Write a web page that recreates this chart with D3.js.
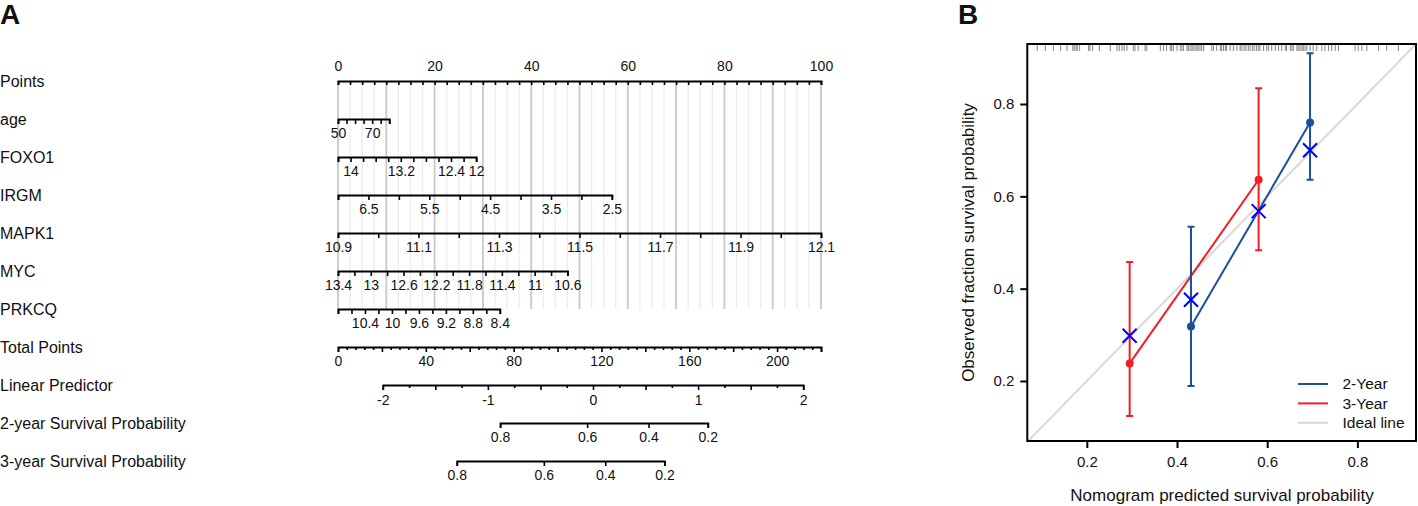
<!DOCTYPE html>
<html>
<head>
<meta charset="utf-8">
<script src="https://cdn.jsdelivr.net/npm/d3@7"></script>
<style>
  body { margin: 0; background: #fff; }
  svg text { font-family: "Liberation Sans", Arial, sans-serif; fill: #111; }
</style>
</head>
<body>
<div id="fig"></div>
<script>
// ---- panel A: nomogram ----
var rowNames = ['Points', 'age', 'FOXO1', 'IRGM', 'MAPK1', 'MYC', 'PRKCQ',
    'Total Points', 'Linear Predictor', '2-year Survival Probability', '3-year Survival Probability'];

var pointsLabels = [0, 20, 40, 60, 80, 100];

var ageRange = [50, 80], agePoints = [0, 10.6];
var ageTicks = [50, 55, 60, 65, 70, 75, 80];
var ageLabels = [50, 70];

var foxo1Range = [14.2, 12], foxo1Points = [0, 28.6];
var foxo1Ticks = [14.2, 14, 13.8, 13.6, 13.4, 13.2, 13, 12.8, 12.6, 12.4, 12.2, 12];
var foxo1Labels = [14, 13.2, 12.4, 12];

var irgmRange = [7, 2.5], irgmPoints = [0, 56.7];
var irgmTicks = [7, 6.5, 6, 5.5, 5, 4.5, 4, 3.5, 3, 2.5];
var irgmLabels = [6.5, 5.5, 4.5, 3.5, 2.5];

var mapk1Range = [10.9, 12.1], mapk1Points = [0, 100];
var mapk1Ticks = [10.9, 11, 11.1, 11.2, 11.3, 11.4, 11.5, 11.6, 11.7, 11.8, 11.9, 12, 12.1];
var mapk1Labels = [10.9, 11.1, 11.3, 11.5, 11.7, 11.9, 12.1];

var mycRange = [13.4, 10.6], mycPoints = [0, 47.5];
var mycTicks = [13.4, 13.2, 13, 12.8, 12.6, 12.4, 12.2, 12, 11.8, 11.6, 11.4, 11.2, 11, 10.8, 10.6];
var mycLabels = [13.4, 13, 12.6, 12.2, 11.8, 11.4, 11, 10.6];

var prkcqRange = [10.8, 8.4], prkcqPoints = [0, 33.5];
var prkcqTicks = [10.8, 10.6, 10.4, 10.2, 10, 9.8, 9.6, 9.4, 9.2, 9, 8.8, 8.6, 8.4];
var prkcqLabels = [10.4, 10, 9.6, 9.2, 8.8, 8.4];

var totalMax = 220;
var totalLabels = [0, 40, 80, 120, 160, 200];

var lpRange = [-2, 2], lpTotal = [20.4, 211.9];
var lpLabels = [-2, -1, 0, 1, 2];

var survLabels = [0.8, 0.6, 0.4, 0.2];
var loglogBase2 = -0.616, loglogBase3 = -0.204;   // log(-log S0(t))

// ---- panel B: calibration ----
var pred2 = [0.431, 0.695], obs2 = [0.318, 0.760], lo2 = [0.189, 0.636], hi2 = [0.534, 0.910];
var pred3 = [0.295, 0.581], obs3 = [0.238, 0.636], lo3 = [0.124, 0.483], hi3 = [0.458, 0.834];
var corrX = [0.295, 0.431, 0.581, 0.695], corrY = [0.298, 0.376, 0.568, 0.700];
var rugPred = [0.090, 0.108, 0.126, 0.142, 0.156, 0.169, 0.172, 0.176, 0.179, 0.184, 0.204, 0.207, 0.213,
    0.228, 0.252, 0.267, 0.272, 0.278, 0.283, 0.289, 0.303, 0.307, 0.314, 0.329, 0.333, 0.363, 0.370,
    0.377, 0.385, 0.388, 0.392, 0.400, 0.407, 0.411, 0.414, 0.422, 0.425, 0.429, 0.433, 0.436, 0.440,
    0.444, 0.447, 0.451, 0.455, 0.459, 0.477, 0.481, 0.488, 0.496, 0.499, 0.503, 0.507, 0.510, 0.518,
    0.525, 0.533, 0.540, 0.544, 0.549, 0.553, 0.558, 0.562, 0.567, 0.571, 0.576, 0.580, 0.584, 0.592,
    0.599, 0.603, 0.610, 0.618, 0.625, 0.632, 0.640, 0.643, 0.651, 0.655, 0.658, 0.666, 0.669, 0.673,
    0.677, 0.680, 0.684, 0.688, 0.695, 0.702, 0.710, 0.721, 0.728, 0.736, 0.743, 0.751, 0.758, 0.795,
    0.802, 0.810, 0.821, 0.847, 0.865, 0.891];
var legendNames = ['2-Year', '3-Year', 'Ideal line'];
var col2 = '#1b4f9c', col3 = '#f01e23', colX = '#0000ff', colIdeal = '#d9d9d9';

var W = 1418, H = 506;
var svg = d3.select('#fig').append('svg').attr('width', W).attr('height', H);
svg.append('rect').attr('width', W).attr('height', H).attr('fill', '#fff');

svg.append('text').text('A').attr('x', 0).attr('y', 24)
    .style('font-size', '28px').style('font-weight', 'bold');

var xPts = d3.scaleLinear().domain([0, 100]).range([338, 821]);
var rowY = d3.scalePoint().domain(rowNames).range([81, 461]);

// grid lines behind the axes
var grid = svg.append('g');
grid.selectAll('line').data(d3.range(0, 100.01, 2.5)).enter().append('line')
    .attr('x1', function(d) { return xPts(d); })
    .attr('x2', function(d) { return xPts(d); })
    .attr('y1', rowY('Points'))
    .attr('y2', rowY('PRKCQ'))
    .attr('stroke', function(d) { return d % 10 === 0 ? '#c9c9c9' : '#ececec'; })
    .attr('stroke-width', function(d) { return d % 10 === 0 ? 1.8 : 1.3; });

// row labels
svg.append('g').selectAll('text').data(rowNames).enter().append('text')
    .text(function(d) { return d; })
    .attr('x', 0)
    .attr('y', function(d) { return rowY(d); })
    .attr('dy', '0.35em')
    .style('font-size', '16px');

function styleAxis(g) {
    g.selectAll('path').attr('stroke', '#000').attr('stroke-width', 1.8);
    g.selectAll('line').attr('stroke', '#000').attr('stroke-width', 1.6);
    g.selectAll('text').style('font-size', '14px').style('font-family', '"Liberation Sans", Arial, sans-serif');
}

// Points axis: ticks down, labels above
var pointsAxis = d3.axisTop(xPts)
    .tickValues(d3.range(0, 100.01, 2.5))
    .tickSize(-4).tickSizeOuter(-4).tickPadding(10)
    .tickFormat(function(d) { return pointsLabels.indexOf(d) >= 0 ? d : ''; });
svg.append('g').attr('transform', 'translate(0,' + rowY('Points') + ')')
    .call(pointsAxis).call(styleAxis);

// predictor axes
var variables = [
    { row: 'age', range: ageRange, points: agePoints, ticks: ageTicks, labels: ageLabels },
    { row: 'FOXO1', range: foxo1Range, points: foxo1Points, ticks: foxo1Ticks, labels: foxo1Labels },
    { row: 'IRGM', range: irgmRange, points: irgmPoints, ticks: irgmTicks, labels: irgmLabels },
    { row: 'MAPK1', range: mapk1Range, points: mapk1Points, ticks: mapk1Ticks, labels: mapk1Labels },
    { row: 'MYC', range: mycRange, points: mycPoints, ticks: mycTicks, labels: mycLabels },
    { row: 'PRKCQ', range: prkcqRange, points: prkcqPoints, ticks: prkcqTicks, labels: prkcqLabels }
];
variables.forEach(function(v) {
    var sc = d3.scaleLinear().domain(v.range).range(v.points.map(xPts));
    var ax = d3.axisBottom(sc).tickValues(v.ticks).tickSize(5).tickSizeOuter(5).tickPadding(4)
        .tickFormat(function(d) { return v.labels.indexOf(d) >= 0 ? d : ''; });
    svg.append('g').attr('transform', 'translate(0,' + rowY(v.row) + ')').call(ax).call(styleAxis);
});

// Total points
var xTotal = d3.scaleLinear().domain([0, totalMax]).range(xPts.range());
var totalAxis = d3.axisBottom(xTotal).tickValues(d3.range(0, totalMax + 0.1, 4))
    .tickSize(5).tickSizeOuter(5).tickPadding(4)
    .tickFormat(function(d) { return totalLabels.indexOf(d) >= 0 ? d : ''; });
var tg = svg.append('g').attr('transform', 'translate(0,' + rowY('Total Points') + ')')
    .call(totalAxis).call(styleAxis);
tg.selectAll('.tick line').attr('y2', function(d) { return d % 20 === 0 ? 5 : 3; });

// Linear predictor
var xLP = d3.scaleLinear().domain(lpRange).range(lpTotal.map(xTotal));
var lpAxis = d3.axisBottom(xLP).tickValues(d3.range(-2, 2.01, 0.25))
    .tickSize(5).tickSizeOuter(5).tickPadding(5)
    .tickFormat(function(d) { return lpLabels.indexOf(d) >= 0 ? d : ''; });
var lg = svg.append('g').attr('transform', 'translate(0,' + rowY('Linear Predictor') + ')')
    .call(lpAxis).call(styleAxis);
lg.selectAll('.tick line').attr('y2', function(d) { return d % 0.5 === 0 ? 5 : 3; });

// survival probability axes (Cox: S = S0^exp(lp))
function survAxis(row, base) {
    var lpOf = function(s) { return Math.log(-Math.log(s)) - base; };
    var vals = survLabels.map(lpOf);
    var sc = d3.scaleLinear().domain([vals[0], vals[vals.length - 1]])
        .range([xLP(vals[0]), xLP(vals[vals.length - 1])]);
    var ax = d3.axisBottom(sc).tickValues(vals).tickSize(5).tickSizeOuter(5).tickPadding(4)
        .tickFormat(function(d, i) { return survLabels[i]; });
    svg.append('g').attr('transform', 'translate(0,' + rowY(row) + ')').call(ax).call(styleAxis);
}
survAxis('2-year Survival Probability', loglogBase2);
survAxis('3-year Survival Probability', loglogBase3);

// ---- panel B ----
svg.append('text').text('B').attr('x', 958).attr('y', 24)
    .style('font-size', '28px').style('font-weight', 'bold');

var bx = d3.scaleLinear().domain([0.068, 0.93]).range([1027.3, 1416]);
var by = d3.scaleLinear().domain([0.07, 0.93]).range([441, 44]);

var pb = svg.append('g');
pb.append('defs').append('clipPath').attr('id', 'clipB').append('rect')
    .attr('x', bx.range()[0]).attr('y', by.range()[1])
    .attr('width', bx.range()[1] - bx.range()[0]).attr('height', by.range()[0] - by.range()[1]);

var plot = pb.append('g').attr('clip-path', 'url(#clipB)');

// ideal line
plot.append('line')
    .attr('x1', bx(0.05)).attr('y1', by(0.05))
    .attr('x2', bx(0.95)).attr('y2', by(0.95))
    .attr('stroke', colIdeal).attr('stroke-width', 2);

// rug of predicted values
plot.append('g').selectAll('line').data(rugPred).enter().append('line')
    .attr('x1', function(d) { return bx(d); }).attr('x2', function(d) { return bx(d); })
    .attr('y1', by.range()[1]).attr('y2', by.range()[1] + 7)
    .attr('stroke', '#444').attr('stroke-opacity', 0.65).attr('stroke-width', 1);

function series(pred, obs, lo, hi, col) {
    var g = plot.append('g');
    var pts = pred.map(function(p, i) { return [p, obs[i]]; });
    g.append('path').datum(pts)
        .attr('d', d3.line().x(function(d) { return bx(d[0]); }).y(function(d) { return by(d[1]); }))
        .attr('fill', 'none').attr('stroke', col).attr('stroke-width', 2);
    pred.forEach(function(p, i) {
        g.append('line').attr('x1', bx(p)).attr('x2', bx(p)).attr('y1', by(lo[i])).attr('y2', by(hi[i]))
            .attr('stroke', col).attr('stroke-width', 2);
        [lo[i], hi[i]].forEach(function(v) {
            g.append('line').attr('x1', bx(p) - 3.5).attr('x2', bx(p) + 3.5).attr('y1', by(v)).attr('y2', by(v))
                .attr('stroke', col).attr('stroke-width', 2);
        });
    });
    g.selectAll('circle').data(pts).enter().append('circle')
        .attr('cx', function(d) { return bx(d[0]); }).attr('cy', function(d) { return by(d[1]); })
        .attr('r', 4).attr('fill', col);
}
series(pred3, obs3, lo3, hi3, col3);
series(pred2, obs2, lo2, hi2, col2);

// bias-corrected estimates
var xs = plot.append('g');
corrX.forEach(function(p, i) {
    var cx = bx(p), cy = by(corrY[i]), s = 7;
    xs.append('path')
        .attr('d', 'M' + (cx - s) + ',' + (cy - s) + 'L' + (cx + s) + ',' + (cy + s) +
                   'M' + (cx - s) + ',' + (cy + s) + 'L' + (cx + s) + ',' + (cy - s))
        .attr('stroke', colX).attr('stroke-width', 2).attr('fill', 'none');
});

// frame
pb.append('rect')
    .attr('x', bx.range()[0]).attr('y', by.range()[1])
    .attr('width', bx.range()[1] - bx.range()[0]).attr('height', by.range()[0] - by.range()[1])
    .attr('fill', 'none').attr('stroke', '#000').attr('stroke-width', 2);

var xAxisB = d3.axisBottom(bx).tickValues([0.2, 0.4, 0.6, 0.8]).tickSize(7).tickSizeOuter(0).tickPadding(8)
    .tickFormat(d3.format('.1f'));
var yAxisB = d3.axisLeft(by).tickValues([0.2, 0.4, 0.6, 0.8]).tickSize(7).tickSizeOuter(0).tickPadding(6)
    .tickFormat(d3.format('.1f'));
function styleB(g) {
    g.select('.domain').remove();
    g.selectAll('line').attr('stroke', '#000').attr('stroke-width', 2);
    g.selectAll('text').style('font-size', '15px').style('font-family', '"Liberation Sans", Arial, sans-serif');
}
pb.append('g').attr('transform', 'translate(0,' + by.range()[0] + ')').call(xAxisB).call(styleB);
pb.append('g').attr('transform', 'translate(' + bx.range()[0] + ',0)').call(yAxisB).call(styleB);

pb.append('text').text('Nomogram predicted survival probability')
    .attr('x', 1222).attr('y', 501).attr('text-anchor', 'middle').style('font-size', '17px');
pb.append('text').text('Observed fraction survival probability')
    .attr('transform', 'translate(974,242.5) rotate(-90)').attr('text-anchor', 'middle')
    .style('font-size', '17px');

// legend
var legend = pb.append('g');
var legendCols = [col2, col3, colIdeal];
legendNames.forEach(function(name, i) {
    var y = 384 + i * 19.4;
    legend.append('line').attr('x1', 1298).attr('x2', 1328).attr('y1', y).attr('y2', y)
        .attr('stroke', legendCols[i]).attr('stroke-width', 2);
    legend.append('text').text(name).attr('x', 1342.5).attr('y', y).attr('dy', '0.35em')
        .style('font-size', '15.5px');
});
</script>
</body>
</html>
